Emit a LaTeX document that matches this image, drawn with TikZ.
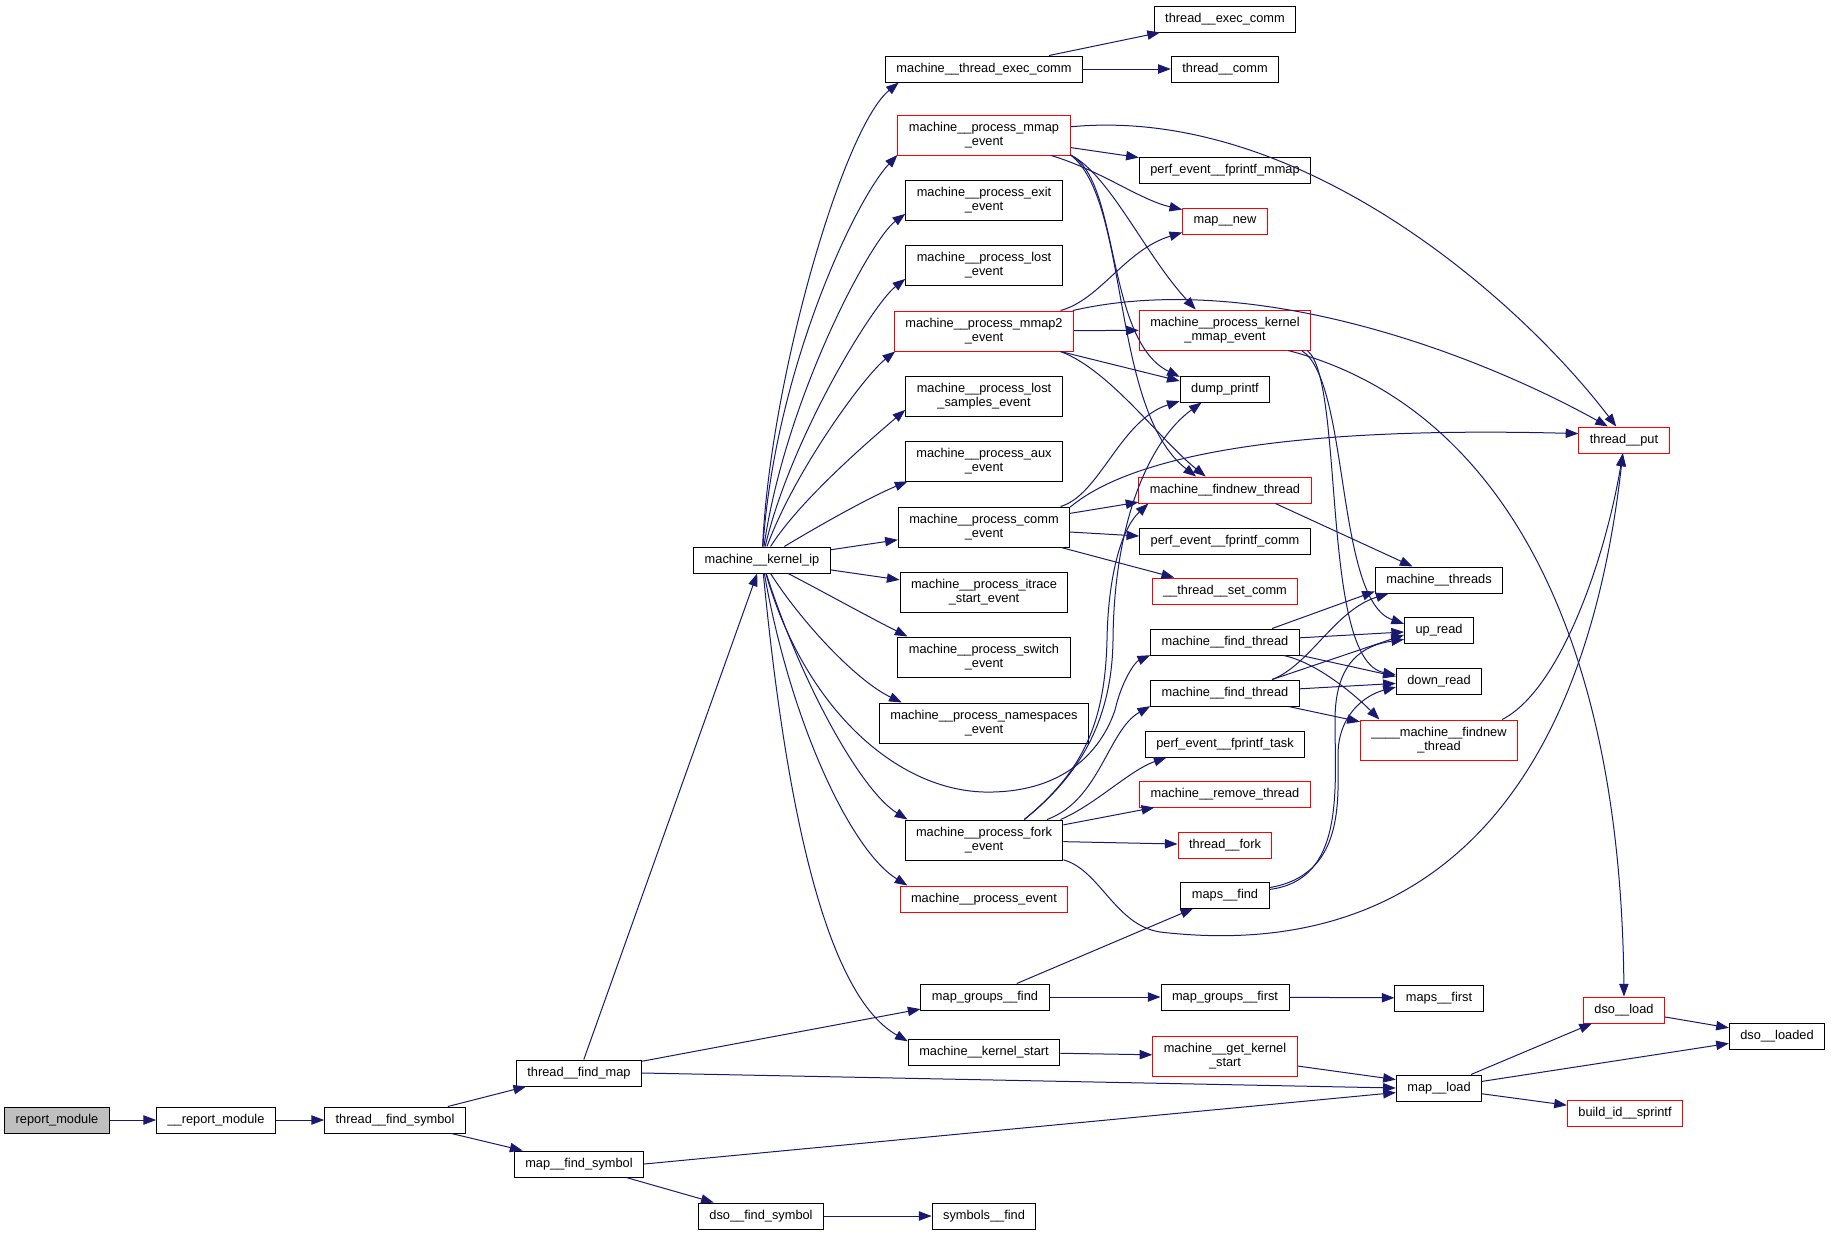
\documentclass[tikz,border=0pt]{standalone}
\usepackage{fontspec}
\newfontfamily\fnfont{Liberation Sans}
\usetikzlibrary{arrows.meta}
\definecolor{linkblue}{HTML}{191970}
\tikzset{
  fn/.style={draw, rectangle, line width=0.75pt, inner xsep=8.25pt, inner ysep=0pt,
    minimum height=19.5pt, align=center, font=\fnfont\fontsize{9.6pt}{10.5pt}\selectfont},
  fn2/.style={fn, minimum height=30pt},
  hot/.style={draw=red},
  root/.style={fill=gray!50},
  link/.style={draw=linkblue, line width=0.75pt, -{Triangle[length=9.5pt,width=7pt]}},
}
\begin{document}
\begin{tikzpicture}[x=0.75pt,y=-0.75pt]
            \fill[white] (0,0) rectangle (1831,1235);
            \useasboundingbox (0,0) rectangle (1831,1235);
            % Entrada
            \node [fn, root] (rpt) at (57,1120) {report\_module};
            \node [fn] (rpt2) at (216,1120) {\_\_report\_module};
            \node [fn] (tfsym) at (395,1120) {thread\_\_find\_symbol};
            \node [fn] (tfmap) at (579,1073) {thread\_\_find\_map};
            \node [fn] (mfsym) at (579,1164) {map\_\_find\_symbol};
            \node [fn] (dfsym) at (761,1216) {dso\_\_find\_symbol};
            \node [fn] (symfind) at (984,1216) {symbols\_\_find};
            \node [fn] (kip) at (762,560) {machine\_\_kernel\_ip};

            % Eventos
            \node [fn] (texec) at (984,69) {machine\_\_thread\_exec\_comm};
            \node [fn2, hot] (pmmap) at (984,135) {machine\_\_process\_mmap\\ \_event};
            \node [fn2] (pexit) at (984,200) {machine\_\_process\_exit\\ \_event};
            \node [fn2] (plost) at (984,265) {machine\_\_process\_lost\\ \_event};
            \node [fn2, hot] (pmmap2) at (984,331) {machine\_\_process\_mmap2\\ \_event};
            \node [fn2] (plsamp) at (984,396) {machine\_\_process\_lost\\ \_samples\_event};
            \node [fn2] (paux) at (984,461) {machine\_\_process\_aux\\ \_event};
            \node [fn2] (pcomm) at (984,527) {machine\_\_process\_comm\\ \_event};
            \node [fn2] (pitr) at (984,592) {machine\_\_process\_itrace\\ \_start\_event};
            \node [fn2] (pswitch) at (984,657) {machine\_\_process\_switch\\ \_event};
            \node [fn2] (pns) at (984,723) {machine\_\_process\_namespaces\\ \_event};
            \node [fn2] (pfork) at (984,840) {machine\_\_process\_fork\\ \_event};
            \node [fn, hot] (pevent) at (984,899) {machine\_\_process\_event};
            \node [fn] (mgfind) at (985,997) {map\_groups\_\_find};
            \node [fn] (kstart) at (984,1052) {machine\_\_kernel\_start};

            % Terceira coluna
            \node [fn] (texc) at (1225,19) {thread\_\_exec\_comm};
            \node [fn] (tcomm) at (1225,69) {thread\_\_comm};
            \node [fn] (fpmmap) at (1225,170) {perf\_event\_\_fprintf\_mmap};
            \node [fn, hot] (mapnew) at (1225,221) {map\_\_new};
            \node [fn2, hot] (kmmap) at (1225,330) {machine\_\_process\_kernel\\ \_mmap\_event};
            \node [fn] (dump) at (1225,389) {dump\_printf};
            \node [fn, hot] (findnew) at (1225,490) {machine\_\_findnew\_thread};
            \node [fn] (fpcomm) at (1225,541) {perf\_event\_\_fprintf\_comm};
            \node [fn, hot] (setcomm) at (1225,591) {\_\_thread\_\_set\_comm};
            \node [fn] (fthr1) at (1225,642) {machine\_\_find\_thread};
            \node [fn] (fthr2) at (1225,693) {machine\_\_find\_thread};
            \node [fn] (fptask) at (1225,744) {perf\_event\_\_fprintf\_task};
            \node [fn, hot] (rmthr) at (1225,794) {machine\_\_remove\_thread};
            \node [fn, hot] (tfork) at (1225,845) {thread\_\_fork};
            \node [fn] (mapsfind) at (1225,895) {maps\_\_find};
            \node [fn] (mgfirst) at (1225,997) {map\_groups\_\_first};
            \node [fn2, hot] (gks) at (1225,1056) {machine\_\_get\_kernel\\ \_start};

            % Quarta coluna
            \node [fn] (mthreads) at (1439,580) {machine\_\_threads};
            \node [fn] (upr) at (1439,630) {up\_read};
            \node [fn] (downr) at (1439,681) {down\_read};
            \node [fn2, hot] (findnew4) at (1439,740) {\_\_\_\_machine\_\_findnew\\ \_thread};
            \node [fn] (mapsfirst) at (1439,998) {maps\_\_first};
            \node [fn] (mapload) at (1439,1088) {map\_\_load};
            \node [fn, hot] (tput) at (1624,440) {thread\_\_put};
            \node [fn, hot] (dsoload) at (1624,1010) {dso\_\_load};
            \node [fn, hot] (bids) at (1625,1113) {build\_id\_\_sprintf};
            \node [fn] (dsoloaded) at (1777,1036) {dso\_\_loaded};

            % Chamadas
            \path (rpt) edge[link] (rpt2);
            \path (rpt2) edge[link] (tfsym);
            \path (tfsym) edge[link] (tfmap);
            \path (tfsym) edge[link] (mfsym);
            \path (tfmap) edge[link] (kip);
            \path (tfmap) edge[link] (mgfind);
            \path (tfmap.east) edge[link] (mapload.west);
            \path (mfsym.east) edge[link] (mapload.186);
            \path (mfsym) edge[link] (dfsym);
            \path (dfsym) edge[link] (symfind);

            \draw[link] (kip) .. controls (770,380) and (843,128) .. (texec.189);
            \draw[link] (kip) .. controls (775,370) and (855,200) .. (pmmap.193);
            \draw[link] (kip) .. controls (785,400) and (870,240) .. (pexit.190);
            \draw[link] (kip) .. controls (790,440) and (872,305) .. (plost.190);
            \draw[link] (kip) .. controls (795,470) and (865,375) .. (pmmap2.193);
            \draw[link] (kip) .. controls (800,500) and (870,440) .. (plsamp.190);
            \draw[link] (kip) .. controls (820,525) and (870,497) .. (paux.195);
            \path (kip) edge[link] (pcomm);
            \path (kip) edge[link] (pitr);
            \draw[link] (kip) .. controls (820,590) and (865,615) .. (pswitch.165);
            \draw[link] (kip) .. controls (800,620) and (855,680) .. (pns.166);
            \draw[link] (kip) .. controls (805,710) and (900,795) .. (993,792)
                .. controls (1075,790) and (1105,740) .. (1115,710)
                .. controls (1122,680) and (1135,662) .. (fthr1.-170);
            \draw[link] (kip) .. controls (800,680) and (860,790) .. (pfork.165);
            \draw[link] (kip) .. controls (790,720) and (850,850) .. (pevent.170);
            \draw[link] (kip) .. controls (790,850) and (835,1000) .. (kstart.172);

            \path (texec) edge[link] (texc);
            \path (texec) edge[link] (tcomm);

            \draw[link] (pmmap) .. controls (1300,105) and (1520,300) .. (tput.120);
            \path (pmmap) edge[link] (fpmmap);
            \draw[link] (pmmap.-17) .. controls (1100,170) and (1140,200) .. (mapnew.165);
            \draw[link] (pmmap.-13) .. controls (1110,175) and (1145,255) .. (kmmap.145);
            \draw[link] (pmmap.-13) .. controls (1120,180) and (1105,340) .. (dump.165);
            \draw[link] (pmmap.-13) .. controls (1130,200) and (1110,410) .. (findnew.155);

            \draw[link] (pmmap2.15) .. controls (1100,300) and (1125,250) .. (mapnew.195);
            \draw[link] (pmmap2.13) .. controls (1250,270) and (1470,350) .. (tput.140);
            \path (pmmap2) edge[link] (kmmap);
            \path (pmmap2.-15) edge[link] (dump.170);
            \draw[link] (pmmap2.-15) .. controls (1110,370) and (1160,440) .. (findnew.145);

            \draw[link] (pcomm.15) .. controls (1100,495) and (1120,420) .. (dump.195);
            \draw[link] (pcomm.13) .. controls (1120,465) and (1250,425) .. (tput.172);
            \path (pcomm.9) edge[link] (findnew.188);
            \path (pcomm) edge[link] (fpcomm);
            \path (pcomm) edge[link] (setcomm);

            \draw[link] (pfork.27) .. controls (1080,775) and (1112,720) .. (1113,640)
                .. controls (1114,520) and (1150,440) .. (dump.-150);
            \draw[link] (pfork.27) .. controls (1085,770) and (1105,720) .. (1107,640)
                .. controls (1108,580) and (1120,530) .. (findnew.-170);
            \draw[link] (pfork.18) .. controls (1100,800) and (1108,730) .. (fthr2.-170);
            \draw[link] (pfork.15) .. controls (1095,805) and (1130,770) .. (fptask.-167);
            \path (pfork) edge[link] (rmthr);
            \path (pfork) edge[link] (tfork);
            \draw[link] (pfork.-14) .. controls (1100,870) and (1115,925) .. (1160,932)
                .. controls (1400,960) and (1580,830) .. (tput.-95);

            \draw[link] (kmmap.-18) .. controls (1480,400) and (1620,600) .. (dsoload.north);
            \draw[link] (kmmap.-15) .. controls (1350,380) and (1335,600) .. (upr.170);
            \draw[link] (kmmap.-14) .. controls (1345,380) and (1320,660) .. (downr.172);

            \path (findnew.-15) edge[link] (mthreads.153);
            \path (fthr1.16) edge[link] (mthreads.-170);
            \path (fthr1) edge[link] (upr);
            \path (fthr1.-10) edge[link] (downr.174);
            \draw[link] (fthr1.-13) .. controls (1315,662) and (1352,692) .. (findnew4.161);
            \draw[link] (fthr2.16) .. controls (1310,665) and (1335,610) .. (mthreads.-165);
            \path (fthr2.16) edge[link] (upr.188);
            \path (fthr2) edge[link] (downr);
            \path (fthr2.-12) edge[link] (findnew4.167);

            \draw[link] (mapsfind) .. controls (1345,880) and (1335,790) .. (1335,720)
                .. controls (1335,660) and (1365,645) .. (upr.195);
            \draw[link] (mapsfind) .. controls (1345,875) and (1338,800) .. (1338,755)
                .. controls (1338,715) and (1365,695) .. (downr.188);
            \draw[link] (findnew4.18) .. controls (1560,690) and (1605,560) .. (tput.-95);

            \path (mgfind) edge[link] (mapsfind);
            \path (mgfind) edge[link] (mgfirst);
            \path (mgfirst) edge[link] (mapsfirst);
            \path (kstart) edge[link] (gks);
            \path (gks) edge[link] (mapload.169);
            \path (mapload) edge[link] (dsoload);
            \path (mapload) edge[link] (dsoloaded);
            \path (mapload) edge[link] (bids);
            \path (dsoload) edge[link] (dsoloaded);
        \end{tikzpicture}
\end{document}
